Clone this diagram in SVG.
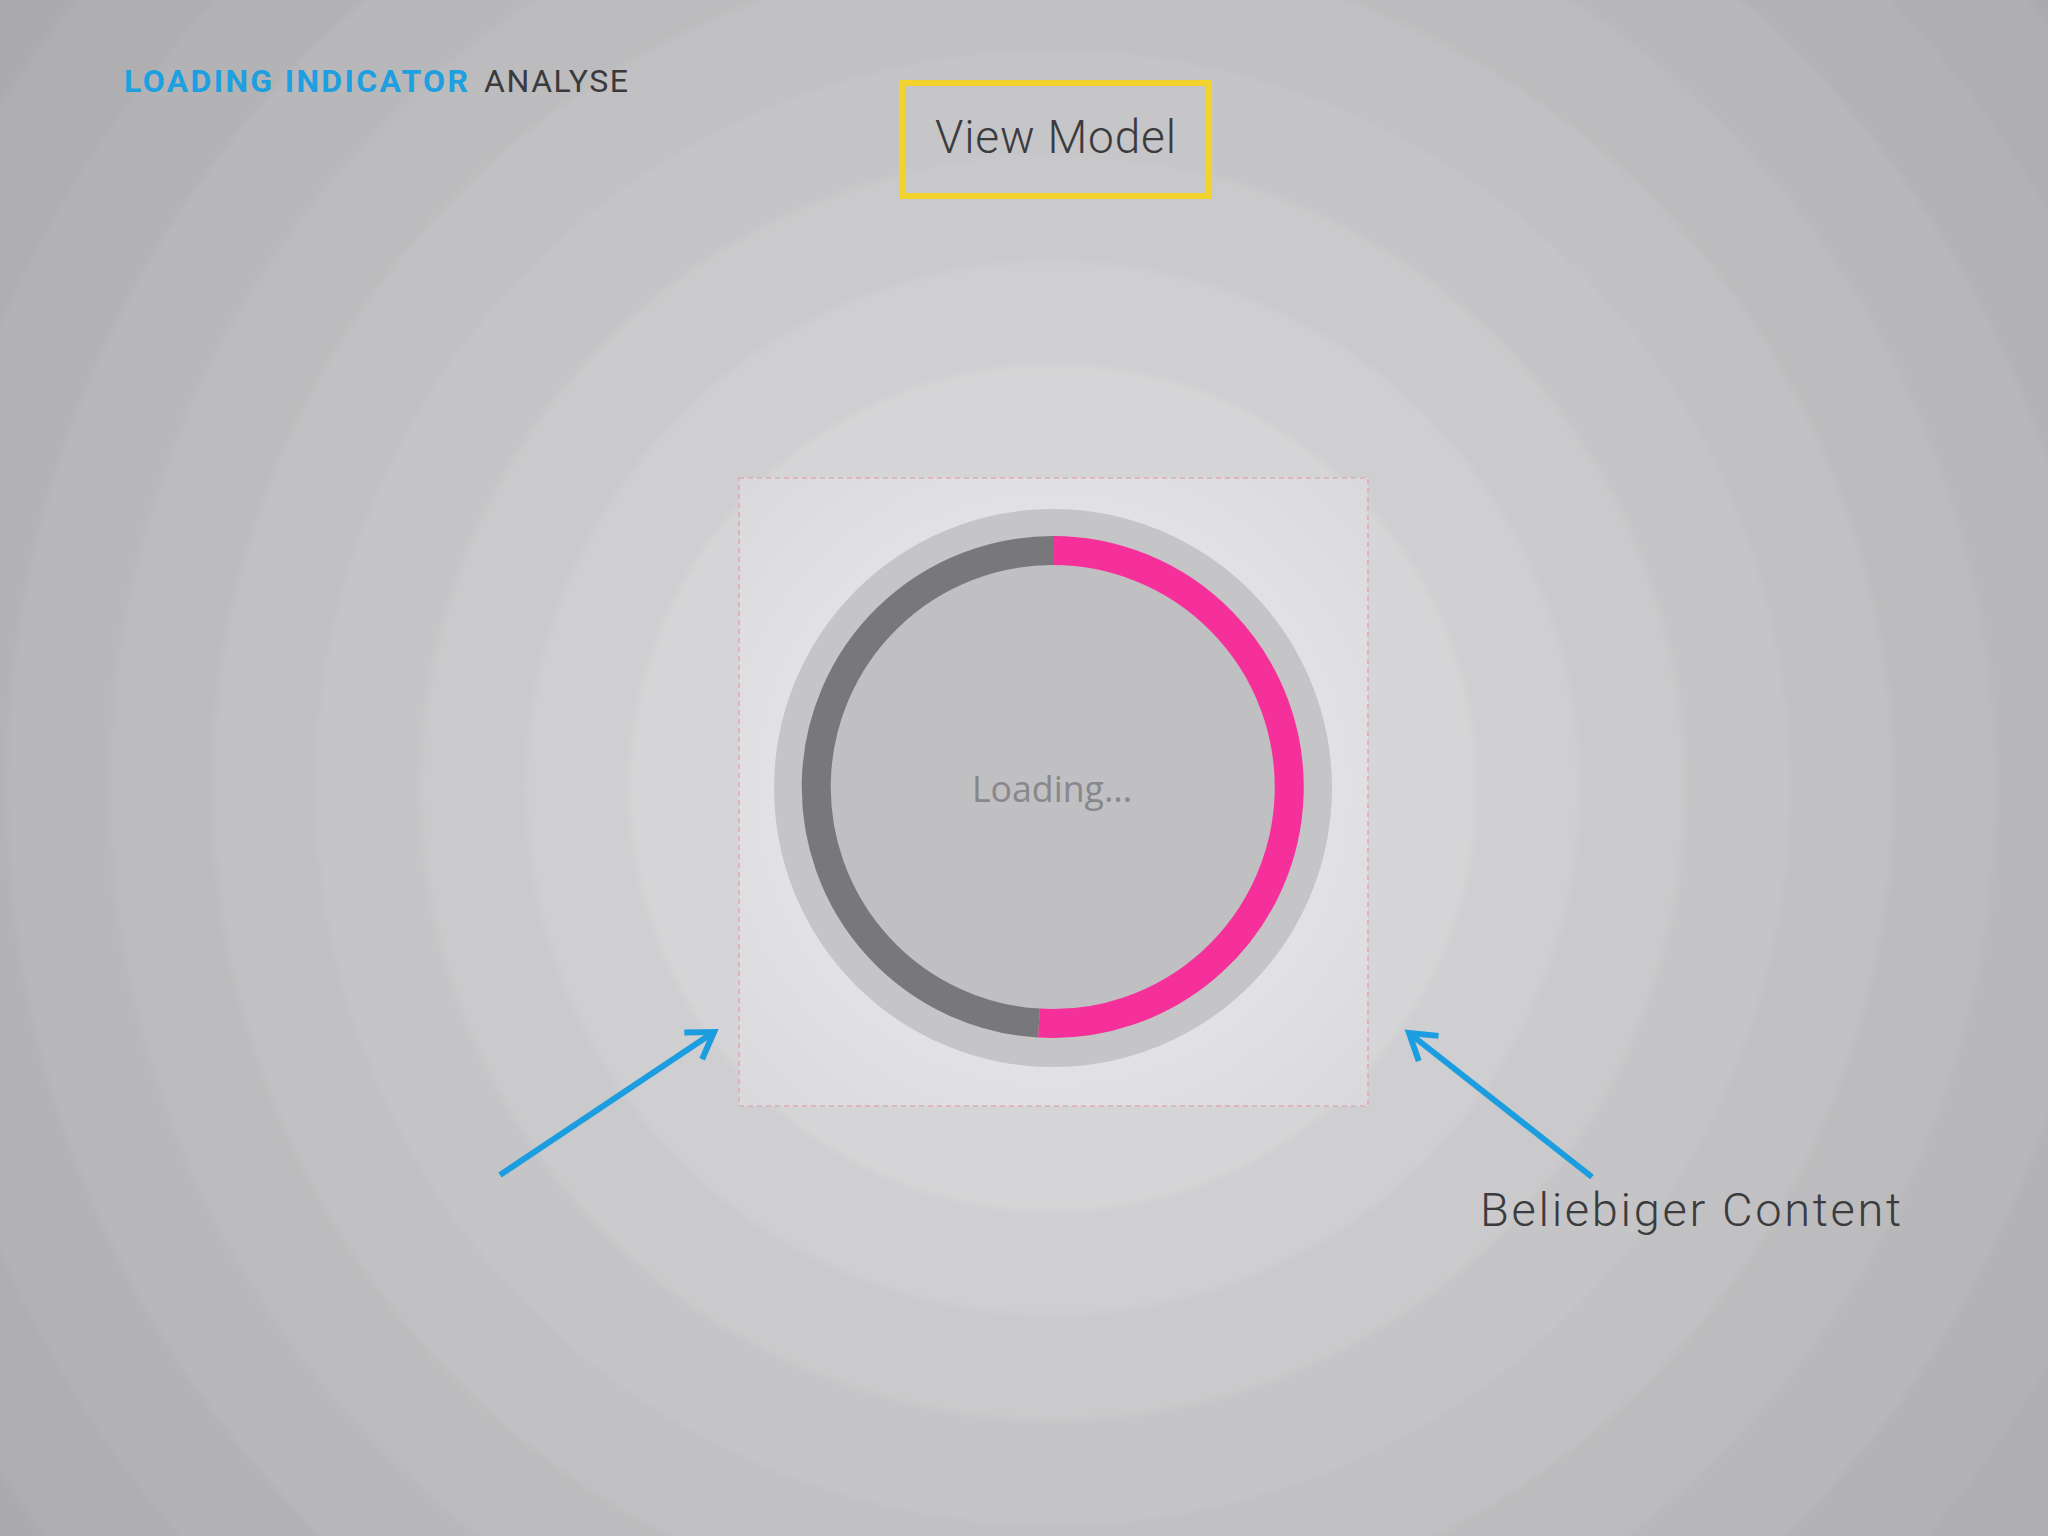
<svg xmlns="http://www.w3.org/2000/svg" width="2048" height="1536" viewBox="0 0 2048 1536">
  <defs>
    <style>
      .title { font-family: Roboto, "Liberation Sans", sans-serif; font-size: 32px; }
      .lbl { font-family: Roboto, "Liberation Sans", sans-serif; fill: #3b3b3e; font-weight: 300; }
      .arrow { fill: none; stroke: #1b9ddf; stroke-width: 6; marker-end: url(#head); }
    </style>
    <marker id="head" markerUnits="userSpaceOnUse" markerWidth="60" markerHeight="60" refX="0" refY="0" viewBox="-30 -30 60 60" orient="auto" overflow="visible">
      <path d="M-25,-16 L0,0 L-25,16" fill="none" stroke="#1b9ddf" stroke-width="6" stroke-linejoin="miter"/>
    </marker>
    <radialGradient id="rectGlow" gradientUnits="userSpaceOnUse" cx="1053" cy="790" r="450">
      <stop offset="0.6" stop-color="#e2e2e4"/>
      <stop offset="1" stop-color="#d9d9db"/>
    </radialGradient>
    <filter id="soft" x="-5%" y="-5%" width="110%" height="110%">
      <feGaussianBlur stdDeviation="3"/>
    </filter>
  </defs>

  <g id="background" filter="url(#soft)">
    <rect x="-20" y="-20" width="2088" height="1576" fill="#a7a7a9"/>
    <circle cx="1053" cy="788" r="1360" fill="#ababad"/>
    <circle cx="1053" cy="788" r="1255" fill="#afafb1"/>
    <circle cx="1053" cy="788" r="1150" fill="#b3b3b5"/>
    <circle cx="1053" cy="788" r="1046" fill="#b8b8ba"/>
    <circle cx="1053" cy="788" r="943" fill="#bcbcbe"/>
    <circle cx="1053" cy="788" r="841" fill="#c1c1c3"/>
    <circle cx="1053" cy="788" r="737" fill="#c5c5c7"/>
    <circle cx="1053" cy="788" r="632" fill="#cacacc"/>
    <circle cx="1053" cy="788" r="527" fill="#cfcfd1"/>
    <circle cx="1053" cy="788" r="423" fill="#d5d5d7"/>
  </g>

  <g id="title">
    <text class="title" x="124" y="92" textLength="344" lengthAdjust="spacing" font-weight="bold" fill="#1d9fe0">LOADING INDICATOR</text>
    <text class="title" x="484" y="92" textLength="144" lengthAdjust="spacing" fill="#3a3a3c">ANALYSE</text>
  </g>

  <g id="view-model">
    <rect x="902" y="83" width="307" height="113" fill="#c9c8ca" fill-opacity="0.4" stroke="#f3d22c" stroke-width="6"/>
    <text class="lbl" x="935" y="153" font-size="46" textLength="241" lengthAdjust="spacing">View Model</text>
  </g>

  <g id="content">
    <rect x="739" y="478" width="629" height="628" fill="url(#rectGlow)" stroke="#e2a9ba" stroke-width="1.6" stroke-dasharray="5 4"/>
    <circle cx="1053" cy="788" r="279" fill="#c5c4c6"/>
    <circle cx="1053" cy="787" r="236.5" fill="#c0bfc1"/>
    <path d="M1039,1023.1 A236.5,236.5 0 0 1 1053,550.5" fill="none" stroke="#78777b" stroke-width="29"/>
    <path d="M1053,550.5 A236.5,236.5 0 1 1 1039,1023.1" fill="none" stroke="#f6309a" stroke-width="29"/>
    <text x="972" y="802" font-family="'Open Sans', 'Noto Sans', sans-serif" font-size="36" fill="#88878b" textLength="160" lengthAdjust="spacingAndGlyphs">Loading...</text>
  </g>

  <g id="beliebiger-content">
    <text class="lbl" x="1480" y="1226" font-size="47" textLength="421" lengthAdjust="spacing">Beliebiger Content</text>
  </g>

  <g id="connectors">
    <line class="arrow" x1="500" y1="1175" x2="714" y2="1032"/>
    <line class="arrow" x1="1592" y1="1177" x2="1409" y2="1033"/>
  </g>
</svg>
